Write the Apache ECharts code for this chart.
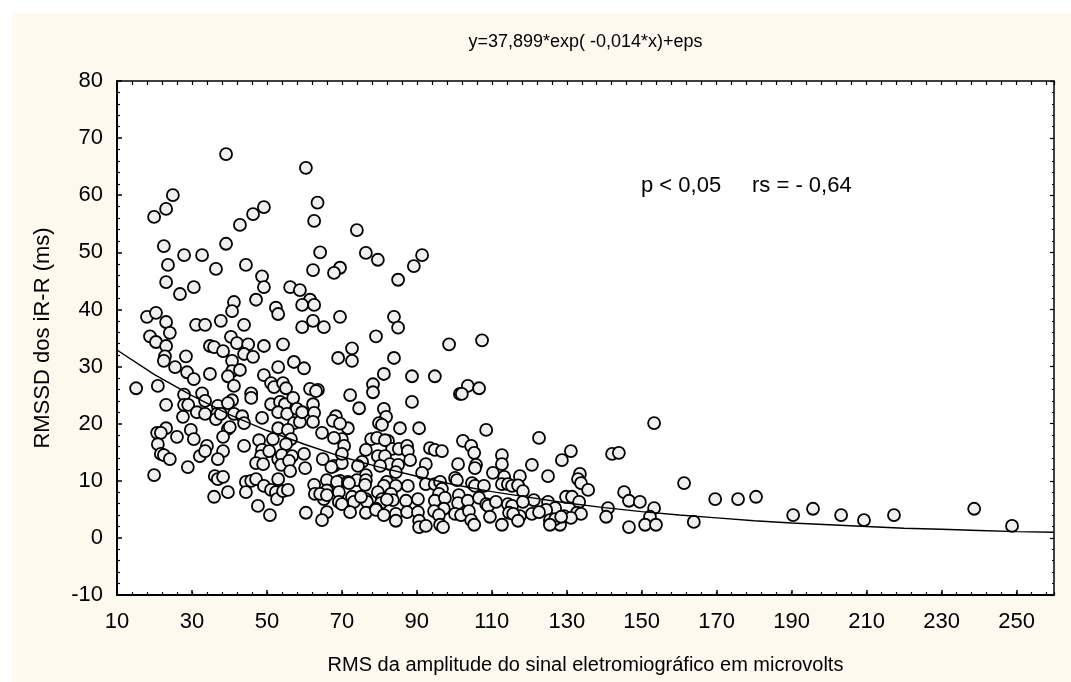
<!DOCTYPE html>
<html>
<head>
<meta charset="utf-8">
<script src="https://cdn.jsdelivr.net/npm/echarts@6/dist/echarts.min.js"></script>
<style>
html,body{margin:0;padding:0;background:#fff;}
#chart{width:1071px;height:682px;}
</style>
</head>
<body>
<div id="chart"></div>
<script>
// ---- data ----
const titleText = 'y=37,899*exp( -0,014*x)+eps';
const statP = 'p < 0,05';
const statRs = 'rs = - 0,64';
const xName = 'RMS da amplitude do sinal eletromiográfico em microvolts';
const yName = 'RMSSD dos iR-R (ms)';
const xRange = [10, 260];
const yRange = [-10, 80];
const xTickStep = 20;
const yTickStep = 10;

// fitted curve
const fitX = [10,20,30,40,50,60,70,80,90,100,110,120,130,140,150,160,170,180,190,200,210,220,230,240,250,260];
const fitY = [32.9,28.6,24.9,21.6,18.8,16.4,14.2,12.4,10.8,9.3,8.1,7.1,6.1,5.3,4.6,4.0,3.5,3.0,2.6,2.3,2.0,1.7,1.5,1.3,1.1,1.0];

// observations [RMS, RMSSD]
const obsHigh = [
[39.1,67.2],[60.4,64.8],[24.9,60.0],[23.1,57.6],[19.9,56.2],[49.2,57.9],[46.3,56.7],[42.8,54.8],[63.5,58.7],[62.6,55.5],
[74.0,53.9],[22.5,51.1],[39.1,51.5],[27.9,49.5],[32.7,49.5],[23.6,47.8],[44.4,47.8],[36.4,47.1],[64.2,50.0],[62.3,46.9],
[76.4,49.9],[79.6,48.7],[91.4,49.5],[89.2,47.6],[85.0,45.2],[69.5,47.3],[67.9,46.4],[23.1,44.8],[30.5,43.9],[26.8,42.7],
[48.7,45.8],[49.2,43.9],[56.2,43.9],[58.8,43.4],[61.5,41.7],[59.4,40.8],[62.6,40.8],[41.2,41.3],[40.7,39.7],[47.1,41.7],
[52.4,40.3],[53.0,39.2],[18.0,38.7],[20.4,39.4],[23.1,37.8],[31.1,37.3],[33.5,37.3],[37.7,38.0],[43.9,37.3],[59.4,36.9],
[62.3,38.0],[69.5,38.7],[65.2,36.9],[83.9,38.7],[85.0,36.8],[18.8,35.3],[24.1,35.9],[40.4,35.2],[79.1,35.3],[107.4,34.6],
[98.6,33.9]
];
const obsMid = [
[20.4,34.3],[23.1,33.6],[22.8,31.8],[22.5,31.0],[28.4,31.8],[25.5,29.9],[28.7,29.0],[30.5,27.8],[34.8,33.6],[35.9,33.4],
[38.3,32.7],[42.0,34.1],[45.0,33.9],[49.2,33.6],[54.3,33.9],[43.9,32.2],[46.3,31.7],[40.7,31.0],[40.7,29.2],[42.8,29.4],
[34.8,28.7],[39.6,28.3],[49.2,28.5],[53.0,29.9],[57.2,30.8],[59.9,29.7],[41.2,26.6],[51.1,27.1],[51.9,26.4],[54.3,27.1],
[55.1,26.2],[61.5,26.1],[15.1,26.2],[20.9,26.6],[27.9,25.1],[32.7,25.3],[45.8,25.3],[45.8,24.5],[72.7,33.2],[69.0,31.5],
[72.7,31.0],[83.9,31.5],[81.2,28.7],[88.7,28.3],[94.8,28.3],[78.3,26.9],[78.3,25.5],[103.6,26.6],[101.5,25.2],[102.0,25.2],
[106.6,26.2],[63.6,25.9],[63.1,25.7],[72.2,25.0]
];
const obsLowMid = [
[23.1,23.3],[27.9,23.3],[29.0,23.3],[33.5,24.0],[36.9,23.1],[40.7,24.1],[39.6,23.6],[51.1,23.4],[53.5,23.8],[54.8,23.4],
[57.0,24.5],[31.3,22.0],[33.5,21.7],[36.7,21.7],[36.4,20.8],[37.7,21.7],[41.2,21.7],[43.4,21.3],[43.9,20.1],[27.6,21.2],
[48.7,21.0],[53.0,22.0],[55.4,21.7],[57.2,20.1],[58.8,20.3],[58.0,22.6],[59.4,22.0],[23.1,19.2],[20.7,18.4],[21.7,18.4],
[26.0,17.7],[29.7,18.9],[30.5,17.3],[39.6,19.1],[40.1,19.4],[38.3,17.7],[47.9,17.1],[51.6,17.3],[53.0,19.2],[55.6,18.9],
[56.4,17.3],[55.1,16.4],[20.9,16.4],[34.0,16.1],[43.9,16.1],[48.7,15.4],[38.3,15.2],[62.3,23.4],[62.6,21.9],[62.3,20.3],
[88.7,23.8],[74.6,22.7],[81.2,22.6],[81.8,21.2],[68.4,21.3],[67.6,20.5],[79.9,20.1],[80.7,19.8],[85.5,19.2],[90.6,19.2],
[108.5,18.9],[71.6,19.2],[64.7,18.4],[69.5,20.0],[70.0,17.3],[67.9,17.5],[77.8,17.3],[79.4,17.5],[76.4,15.4],[82.3,17.0],
[83.4,15.6],[85.2,15.6],[87.4,16.1],[87.6,15.2],[81.5,17.1],[93.5,15.7],[94.8,15.4],[96.7,15.2],[102.3,17.0],[104.5,16.1],
[105.3,14.9],[153.3,20.1],[122.6,17.5],[131.1,15.2],[142.1,14.7],[143.9,14.9],[70.6,16.1]
];
const obsLow = [
[21.7,14.7],[22.5,14.5],[24.1,13.8],[32.1,14.3],[33.5,15.2],[36.9,13.8],[48.4,14.3],[50.6,15.2],[53.0,13.8],[54.0,14.5],
[56.7,14.3],[59.9,14.7],[47.1,13.1],[49.0,12.9],[53.8,12.8],[55.9,13.5],[56.2,11.7],[60.2,12.2],[28.9,12.4],[19.9,11.0],
[36.1,10.8],[36.9,10.3],[38.3,10.7],[44.4,9.8],[45.8,10.0],[47.1,10.3],[53.0,10.3],[64.9,13.8],[67.9,12.6],[70.0,13.1],
[75.4,13.3],[70.0,14.7],[67.2,12.4],[74.3,12.6],[79.6,14.3],[81.5,14.3],[82.8,12.9],[85.0,12.8],[84.4,11.5],[88.2,13.6],
[92.4,12.9],[101.0,12.9],[105.8,12.8],[105.5,12.2],[112.7,14.5],[112.7,12.9],[110.3,11.4],[76.4,11.0],[91.4,11.4],[80.2,12.6],
[100.2,10.5],[100.7,10.1],[66.0,10.1],[69.5,10.0],[74.0,10.1],[113.3,10.7],[117.5,10.8],[120.7,12.8],[128.7,13.6],[125.0,10.8],
[133.5,11.2],[133.0,10.3],[161.3,9.6]
];
const obsVeryLow = [
[49.2,9.1],[51.1,8.4],[52.4,8.0],[52.7,6.8],[54.3,8.2],[55.6,8.4],[39.6,8.0],[44.4,8.0],[35.9,7.2],[47.6,5.6],
[62.6,9.3],[62.8,7.7],[65.2,6.8],[68.7,9.8],[69.2,8.0],[71.6,9.8],[76.4,10.1],[76.2,9.3],[66.0,8.3],[71.9,9.6],
[82.0,9.8],[84.4,9.1],[81.2,9.1],[87.6,9.1],[92.4,9.4],[94.8,9.4],[96.2,9.8],[96.7,8.6],[95.9,7.7],[104.7,9.6],
[105.5,9.1],[107.9,9.1],[112.7,9.4],[114.3,9.4],[115.4,9.1],[117.0,9.2],[118.3,8.2],[64.2,7.7],[69.2,6.3],[66.0,7.5],
[72.7,7.2],[73.2,6.3],[76.4,6.8],[76.7,6.3],[75.1,7.2],[79.6,8.0],[80.7,6.8],[80.4,6.1],[83.1,7.7],[83.6,6.6],
[87.1,6.5],[90.3,6.8],[94.8,6.5],[97.5,7.0],[97.2,5.1],[101.2,7.5],[101.0,6.1],[103.6,6.5],[106.6,7.0],[108.5,5.9],
[109.0,5.6],[111.1,6.3],[114.3,5.9],[115.4,5.6],[133.8,9.6],[135.7,8.4],[169.6,6.8],[145.3,8.0],[146.6,6.5],[149.5,6.3],
[153.3,5.2],[141.0,5.2],[129.8,7.2],[131.4,7.2],[133.3,6.3],[121.2,6.6],[125.0,6.3],[118.3,6.3],[126.9,5.2],[70.0,5.9],
[79.1,5.1],[82.0,6.7],[175.7,6.8],[180.5,7.2],[195.7,5.1],[238.7,5.1]
];
const obsBottom = [
[50.8,4.0],[60.4,4.4],[66.0,4.5],[64.7,3.1],[72.2,4.5],[76.4,4.4],[79.1,4.9],[81.2,4.0],[84.4,4.2],[84.4,3.0],
[87.4,4.5],[90.3,4.5],[90.6,3.0],[90.6,1.9],[92.4,2.1],[94.6,4.7],[95.9,4.0],[96.2,2.3],[97.0,1.9],[100.2,4.2],
[101.8,4.0],[103.9,4.7],[104.5,3.1],[105.3,2.3],[109.5,3.7],[112.7,2.3],[114.6,4.4],[152.2,3.7],[150.9,2.3],[153.8,2.3],
[146.6,1.9],[140.5,3.7],[163.9,2.8],[124.5,4.9],[129.3,3.8],[132.7,4.4],[133.8,4.2],[131.1,3.5],[120.7,4.2],[117.5,3.8],
[125.5,3.1],[128.2,2.3],[126.9,3.3],[122.6,4.5],[115.7,4.2],[117.0,3.0],[125.5,2.3],[128.5,3.7],[190.4,4.0],[203.2,4.0],
[209.3,3.1],[217.3,4.0],[248.8,2.1]
];

// ---- chart ----
const FONT = '"Liberation Sans", Arial, sans-serif';
const x0 = xRange[0];            // axis is drawn from 0 so ticks land on 10, 30, ...
const shift = p => [p[0] - x0, p[1]];
const observations = [].concat(obsHigh, obsMid, obsLowMid, obsLow, obsVeryLow, obsBottom).map(shift);
const fitLine = fitX.map((x, i) => [x - x0, fitY[i]]);

const chart = echarts.init(document.getElementById('chart'), null, {renderer: 'canvas'});
const black = '#000';
const baseX = {
  type: 'value', min: 0, max: xRange[1] - x0, splitLine: {show: false},
  axisLabel: {show: false}, axisTick: {show: false}, axisLine: {show: false, onZero: false}
};
const baseY = {
  type: 'value', min: yRange[0], max: yRange[1], interval: yTickStep, splitLine: {show: false},
  axisLabel: {show: false}, axisTick: {show: false}, axisLine: {show: false, onZero: false}
};

chart.setOption({
  backgroundColor: '#ffffff',
  animation: false,
  graphic: [
    {type: 'rect', left: 12, top: 13, shape: {width: 1100, height: 700}, style: {fill: '#fdf9ee'}, z: -10, silent: true},
    {type: 'text', x: 585.5, y: 42, style: {text: titleText, fontFamily: FONT, fontSize: 18, fill: black,
      textAlign: 'center', textVerticalAlign: 'middle'}, z: 10},
    {type: 'text', x: 641, y: 186, style: {text: statP, fontFamily: FONT, fontSize: 22, fill: black,
      textAlign: 'left', textVerticalAlign: 'middle'}, z: 10},
    {type: 'text', x: 752, y: 186, style: {text: statRs, fontFamily: FONT, fontSize: 22, fill: black,
      textAlign: 'left', textVerticalAlign: 'middle'}, z: 10}
  ],
  grid: {left: 117, top: 81, right: 17, bottom: 87, show: true, backgroundColor: '#ffffff', borderWidth: 0},
  xAxis: [
    Object.assign({}, baseX, {
      position: 'bottom', interval: xTickStep,
      axisLine: {show: true, onZero: false, lineStyle: {color: black, width: 2}},
      axisTick: {show: true, inside: true, length: 5, lineStyle: {color: black, width: 1.5}},
      axisLabel: {show: true, formatter: v => String(v + x0), showMaxLabel: false, margin: 16,
        fontFamily: FONT, fontSize: 22, color: black},
      name: xName, nameLocation: 'middle', nameGap: 60,
      nameTextStyle: {fontFamily: FONT, fontSize: 20, color: black}
    }),
    Object.assign({}, baseX, {
      position: 'bottom', interval: 4,
      axisTick: {show: true, inside: true, length: 3, lineStyle: {color: black, width: 1.2}}
    }),
    Object.assign({}, baseX, {
      position: 'top', interval: 4,
      axisLine: {show: true, onZero: false, lineStyle: {color: black, width: 1.5}},
      axisTick: {show: true, inside: true, length: 4, lineStyle: {color: black, width: 1.2}}
    })
  ],
  yAxis: [
    Object.assign({}, baseY, {
      position: 'left',
      axisLine: {show: true, onZero: false, lineStyle: {color: black, width: 2}},
      axisTick: {show: true, inside: true, length: 5, lineStyle: {color: black, width: 1.5}},
      minorTick: {show: true, splitNumber: 5, length: 3, lineStyle: {color: black, width: 1.2}},
      axisLabel: {show: true, margin: 14, fontFamily: FONT, fontSize: 22, color: black},
      name: yName, nameLocation: 'middle', nameGap: 63, nameRotate: 90,
      nameTextStyle: {fontFamily: FONT, fontSize: 22, color: black}
    }),
    Object.assign({}, baseY, {
      position: 'right',
      axisLine: {show: true, onZero: false, lineStyle: {color: black, width: 1.5}},
      axisTick: {show: true, inside: true, length: 4, lineStyle: {color: black, width: 1.2}},
      minorTick: {show: true, splitNumber: 5, length: 2, lineStyle: {color: black, width: 1}}
    })
  ],
  series: [
    {
      type: 'scatter', xAxisIndex: 0, yAxisIndex: 0, data: observations,
      symbol: 'circle', symbolSize: 12,
      itemStyle: {color: '#efefef', borderColor: black, borderWidth: 1.8, opacity: 1},
      emphasis: {disabled: true}, z: 3
    },
    {
      type: 'line', xAxisIndex: 0, yAxisIndex: 0, data: fitLine,
      showSymbol: false, smooth: false,
      lineStyle: {color: black, width: 1.4}, z: 4
    }
  ]
});
</script>
</body>
</html>
